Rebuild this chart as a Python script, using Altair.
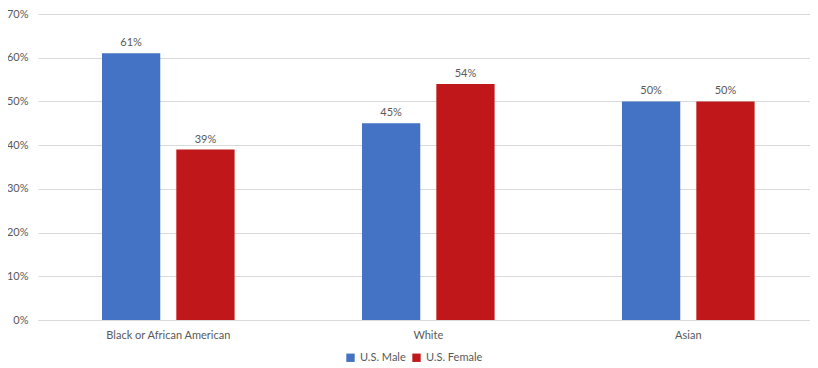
import altair as alt
import pandas as pd

categories = ["Black or African American", "White", "Asian"]
series = ["U.S. Male", "U.S. Female"]
male = [61, 45, 50]
female = [39, 54, 50]
colors = ["#4472C4", "#C0181A"]

rows = []
for c, m, f in zip(categories, male, female):
    rows.append({"cat": c, "series": series[0], "val": m / 100})
    rows.append({"cat": c, "series": series[1], "val": f / 100})
df = pd.DataFrame(rows)

FONT = "Lato"
GRAY = "#595959"

x = alt.X("cat:N", sort=categories, title=None,
          scale=alt.Scale(paddingInner=0.49, paddingOuter=0.2296, align=0.536),
          axis=alt.Axis(labelAngle=0, ticks=False, domain=True, domainColor="#d9d9d9",
                        labelFont=FONT, labelFontSize=11, labelColor=GRAY, labelPadding=9))
xo = alt.XOffset("series:N", sort=series, scale=alt.Scale(paddingInner=0.216, paddingOuter=0))
y = alt.Y("val:Q", title=None,
          scale=alt.Scale(domain=[0, 0.7], nice=False),
          axis=alt.Axis(format=".0%", values=[0, .1, .2, .3, .4, .5, .6, .7], ticks=False,
                        domain=False, gridColor="#d9d9d9", labelFont=FONT, labelFontSize=11,
                        labelColor=GRAY, labelPadding=10))
color = alt.Color("series:N", sort=series, scale=alt.Scale(domain=series, range=colors),
                  legend=alt.Legend(title=None, orient="none", legendX=307, legendY=338,
                                    direction="horizontal", symbolType="square", symbolSize=70,
                                    labelFont=FONT, labelFontSize=11, labelColor=GRAY,
                                    columnPadding=5, symbolStrokeWidth=0))

base = alt.Chart(df)
bars = base.mark_bar().encode(x=x, xOffset=xo, y=y, color=color)
labels = base.mark_text(dy=-10, font=FONT, fontSize=11, color=GRAY).encode(
    x=x, xOffset=xo, y=y, text=alt.Text("val:Q", format=".0%"))

chart = (bars + labels).properties(
    width=772, height=306,
    padding={"left": 30, "top": 6, "right": 0, "bottom": 48},
    autosize=alt.AutoSizeParams(type="none"),
    background="white",
).configure_view(stroke=None)

chart.save("out.html", embed_options={"renderer": "svg", "actions": False})
